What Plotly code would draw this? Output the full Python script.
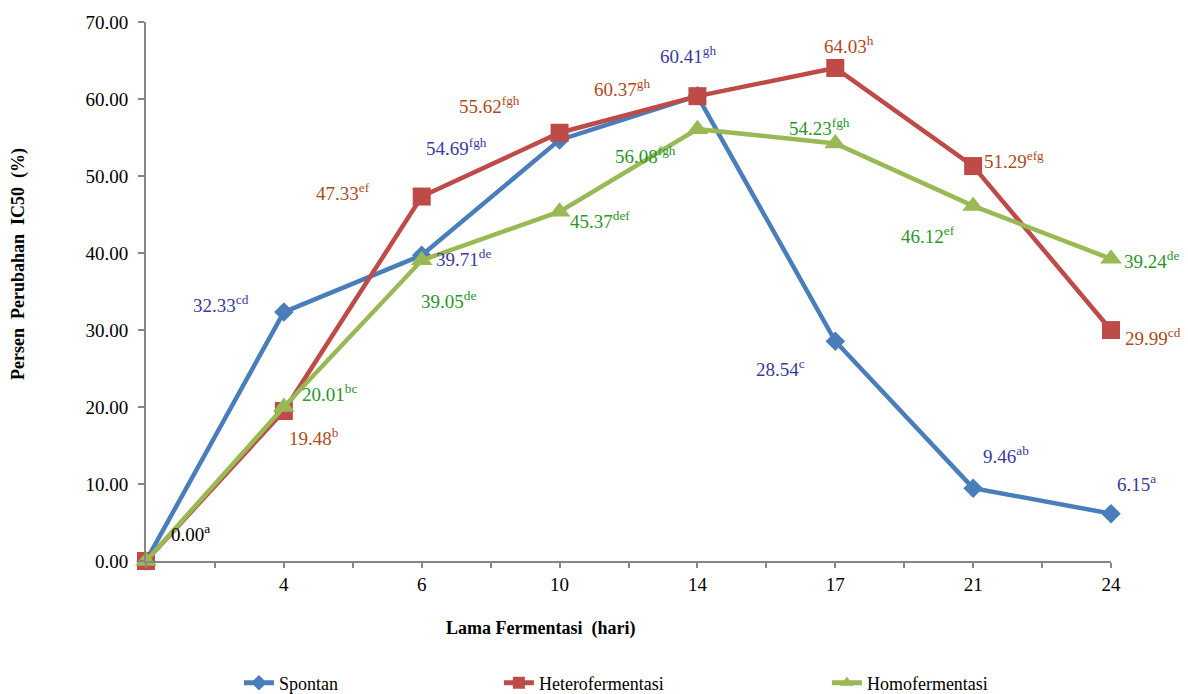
import plotly.graph_objects as go

# ---- data ----
categories = ["0", "4", "6", "10", "14", "17", "21", "24"]
tick_labels = ["", "4", "6", "10", "14", "17", "21", "24"]

spontan = [0.00, 32.33, 39.71, 54.69, 60.41, 28.54, 9.46, 6.15]
hetero = [0.00, 19.48, 47.33, 55.62, 60.37, 64.03, 51.29, 29.99]
homo = [0.00, 20.01, 39.05, 45.37, 56.08, 54.23, 46.12, 39.24]

spontan_letters = ["a", "cd", "de", "fgh", "gh", "c", "ab", "a"]
hetero_letters = [None, "b", "ef", "fgh", "gh", "h", "efg", "cd"]
homo_letters = [None, "bc", "de", "def", "fgh", "fgh", "ef", "de"]

# ---- label offsets (pixels from point: dx, dy downwards) ----
spontan_off = [(44, -28), (-63, -8), (42, 3), (-103, 7), (-9, -41), (-55, 27), (33, -33), (25, -31)]
hetero_off = [None, (30, 26), (-79, -5), (-70, -28), (-75, -8), (14, -23), (41, -6), (42, 7)]
homo_off = [None, (46, -14), (27, 40), (40, 8), (-52, 26), (-16, -16), (-45, 29), (40, 1)]

FONT = "Liberation Serif"
xpos = list(range(len(categories)))

fig = go.Figure()

series = [
    ("Spontan", spontan, "#4A7EBB", "diamond", 15, "legend"),
    ("Heterofermentasi", hetero, "#BE4B48", "square", 18, "legend2"),
    ("Homofermentasi", homo, "#98B954", "triangle-up", 19, "legend3"),
]
for name, vals, col, sym, size, leg in series:
    fig.add_trace(go.Scatter(
        x=xpos, y=vals, name=name, mode="lines+markers",
        line=dict(color=col, width=4.5),
        marker=dict(symbol=sym, size=size, color=col),
        cliponaxis=False, legend=leg, showlegend=True,
    ))

annotations = []
label_sets = [
    (spontan, spontan_letters, spontan_off, "#3A3A9E"),
    (hetero, hetero_letters, hetero_off, "#B04A1B"),
    (homo, homo_letters, homo_off, "#2A962A"),
]
for vals, letters, offs, col in label_sets:
    for i, (v, l, o) in enumerate(zip(vals, letters, offs)):
        if l is None:
            continue
        c = "black" if (i == 0) else col
        annotations.append(dict(
            x=xpos[i], y=v, xref="x", yref="y",
            text=f"{v:.2f}<sup>{l}</sup>", showarrow=False,
            xanchor="center", yanchor="middle",
            xshift=o[0], yshift=-o[1],
            font=dict(family=FONT, size=19, color=c),
        ))

# axis titles
annotations.append(dict(
    x=0.4093, y=-0.126, xref="paper", yref="paper",
    xanchor="center", yanchor="middle",
    text="<b>Lama Fermentasi  (hari)</b>", showarrow=False,
    font=dict(family=FONT, size=18, color="black"),
))
annotations.append(dict(
    x=-0.1326, y=0.551, xref="paper", yref="paper",
    xanchor="center", yanchor="middle",
    text="<b>Persen  Perubahan  IC50  (%)</b>", showarrow=False, textangle=-90,
    font=dict(family=FONT, size=18, color="black"),
))

axis_col = "#868686"
leg_common = dict(orientation="h", yanchor="top", y=-0.192, xanchor="left",
                  font=dict(family=FONT, size=18, color="black"),
                  bgcolor="rgba(0,0,0,0)", itemsizing="constant")

fig.update_layout(
    width=1188, height=694,
    margin=dict(l=138, r=85, t=14, b=141, autoexpand=False),
    paper_bgcolor="white", plot_bgcolor="white",
    font=dict(family=FONT, size=19, color="black"),
    annotations=annotations,
    showlegend=True,
    legend=dict(x=0.0963, **leg_common),
    legend2=dict(x=0.3657, **leg_common),
    legend3=dict(x=0.7056, **leg_common),
    xaxis=dict(
        range=[0, 7], tickmode="array", tickvals=xpos, ticktext=tick_labels,
        showline=True, linecolor=axis_col, linewidth=2,
        ticks="outside", ticklen=5, tickcolor=axis_col, tickwidth=1.5,
        minor=dict(dtick=0.5, tick0=0, ticks="outside", ticklen=5,
                   tickcolor=axis_col, tickwidth=1.5, showgrid=False),
        showgrid=False, zeroline=False, automargin=False,
        tickfont=dict(family=FONT, size=19, color="black"),
    ),
    yaxis=dict(
        range=[0, 70], dtick=10, tickformat=".2f",
        showline=True, linecolor=axis_col, linewidth=2,
        ticks="outside", ticklen=6, tickcolor=axis_col, tickwidth=1.5,
        showgrid=False, zeroline=False, ticklabelstandoff=6, automargin=False,
        tickfont=dict(family=FONT, size=19, color="black"),
    ),
)

fig.write_html("out.html")
